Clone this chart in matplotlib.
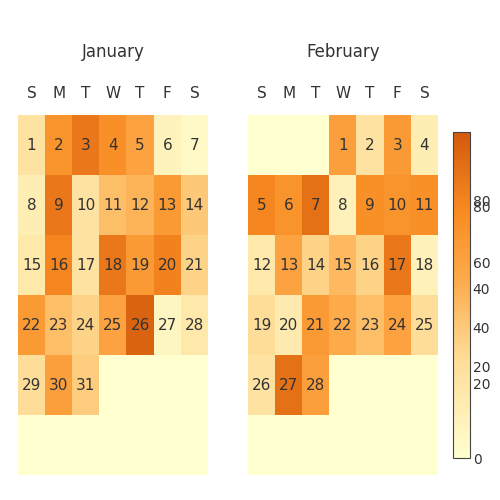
import numpy as np
import matplotlib.pyplot as plt
from matplotlib.colors import LinearSegmentedColormap

plt.rcParams["font.family"] = ["Liberation Sans Narrow", "DejaVu Sans"]

days = ["S", "M", "T", "W", "T", "F", "S"]
months = ["January", "February"]
start_col = [0, 3]  # Jan 1 2023 is Sunday, Feb 1 is Wednesday
jan_vals = [25, 70, 85, 72, 60, 10, 5, 15, 85, 25, 45, 50, 65, 40, 20, 78, 25, 85,
            65, 80, 35, 65, 45, 35, 60, 95, 8, 20, 30, 62, 38]
feb_vals = [62, 25, 65, 15, 78, 70, 88, 12, 72, 70, 72, 20, 60, 35, 48, 35, 85, 12,
            30, 18, 65, 55, 45, 60, 30, 25, 88, 62]
cbar_ticks = [0, 23, 28, 40, 52, 60, 77, 79]
cbar_labels = ["0", "20", "20", "40", "40", "60", "80", "80"]

cmap = LinearSegmentedColormap.from_list(
    "cal", [(0, "#ffffd0"), (0.3, "#fedd98"), (0.55, "#fdaa4a"),
            (0.75, "#f98c22"), (1, "#d45a0c")])

fig = plt.figure(figsize=(5, 5), dpi=100)
boxes = [[18 / 500, 25 / 500, 190 / 500, 360 / 500],
         [248 / 500, 25 / 500, 190 / 500, 360 / 500]]
for m, vals in enumerate([jan_vals, feb_vals]):
    grid = np.zeros((6, 7))
    for i, v in enumerate(vals):
        pos = start_col[m] + i
        grid[pos // 7, pos % 7] = v
    ax = fig.add_axes(boxes[m])
    im = ax.imshow(grid, cmap=cmap, vmin=0, vmax=100, aspect="auto")
    for i in range(len(vals)):
        pos = start_col[m] + i
        ax.text(pos % 7, pos // 7, str(i + 1), ha="center", va="center",
                fontsize=11, color="#333333")
    ax.set_xticks(range(7))
    ax.set_xticklabels(days, fontsize=11, color="#333333")
    ax.xaxis.tick_top()
    ax.tick_params(length=0, pad=10)
    ax.set_yticks([])
    for s in ax.spines.values():
        s.set_visible(False)
    ax.set_title(months[m], fontsize=12, color="#333333", pad=42)

cax = fig.add_axes([453 / 500, 42 / 500, 17 / 500, 326 / 500])
cb = fig.colorbar(im, cax=cax)
cb.set_ticks(cbar_ticks)
cb.set_ticklabels(cbar_labels)
cb.ax.tick_params(labelsize=10, length=0, labelcolor="#333333", pad=2)
cb.outline.set_edgecolor("#444444")

fig.savefig("out.png", dpi=100)
